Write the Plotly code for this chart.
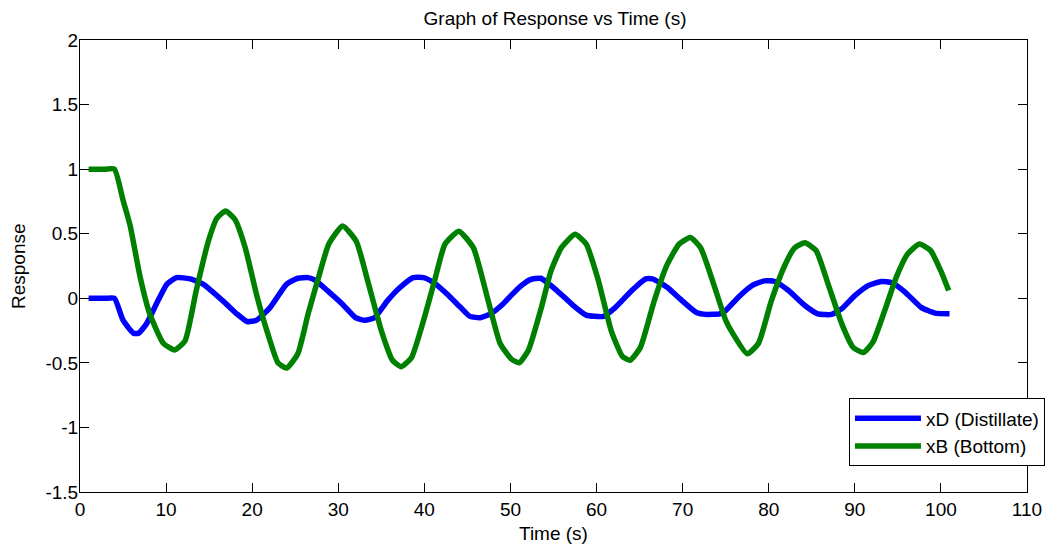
import plotly.graph_objects as go

# ---- data ----
t_distillate = [1, 2, 3, 4, 5.0, 6.2, 6.8, 7.7, 8.9, 10.1, 11.2, 12.8, 14.3, 16.6, 18.2,
                19.4, 20.5, 22.1, 24.0, 25.3, 26.5, 27.3, 28.9, 30.4, 32.0, 33.1, 34.2,
                35.7, 37.2, 38.7, 39.9, 41.1, 42.6, 44.2, 45.3, 46.5, 47.7, 49.2, 50.2,
                51.3, 52.3, 53.5, 55.4, 57.3, 58.8, 60.8, 62.2, 64.1, 65.7, 66.5, 68.2,
                69.7, 71.6, 72.8, 74.3, 75.0, 76.5, 78.1, 79.5, 80.7, 82.3, 84.2, 85.7,
                87.3, 88.5, 90.0, 91.6, 93.1, 94.3, 95.8, 97.7, 99.3, 101.0]
xD = [0, 0, 0, 0, -0.17, -0.27, -0.27, -0.20, -0.04, 0.11, 0.16, 0.15, 0.11, -0.02, -0.12,
      -0.18, -0.17, -0.07, 0.11, 0.155, 0.16, 0.14, 0.05, -0.04, -0.15, -0.17, -0.15,
      -0.02, 0.085, 0.16, 0.16, 0.12, 0.035, -0.07, -0.14, -0.15, -0.12, -0.04, 0.03,
      0.10, 0.145, 0.155, 0.06, -0.056, -0.13, -0.14, -0.07, 0.06, 0.15, 0.15, 0.085,
      -0.005, -0.11, -0.125, -0.12, -0.095, 0.01, 0.10, 0.135, 0.13, 0.06, -0.056, -0.12,
      -0.125, -0.08, 0.02, 0.10, 0.13, 0.12, 0.05, -0.07, -0.115, -0.12]

t_bottom = [1, 2, 3, 4, 5.0, 5.8, 7.0, 8.1, 9.7, 11.0, 12.2, 13.5, 14.9, 15.9, 16.9, 18.0,
            19.2, 20.5, 21.7, 23.0, 24.0, 25.3, 26.5, 27.7, 28.9, 30.5, 32.1, 33.4, 35.0,
            36.3, 37.3, 38.5, 40.0, 41.2, 42.4, 44.0, 45.7, 47.3, 48.8, 50.1, 51.0, 52.1,
            53.6, 54.7, 55.9, 57.5, 58.8, 60.2, 61.7, 63.0, 63.9, 65.1, 66.7, 68.2, 69.6,
            70.9, 72.1, 73.6, 75.0, 75.8, 77.5, 78.8, 80.3, 81.9, 83.0, 84.2, 85.5, 86.9,
            88.5, 89.8, 91.0, 92.1, 93.5, 94.8, 96.1, 97.5, 98.8, 100.0, 100.9]
xB = [1.0, 1.0, 1.0, 1.0, 0.76, 0.57, 0.16, -0.12, -0.35, -0.40, -0.33, 0.06, 0.44, 0.62,
      0.675, 0.61, 0.39, 0.03, -0.25, -0.50, -0.54, -0.43, -0.12, 0.16, 0.42, 0.56, 0.44,
      0.14, -0.25, -0.48, -0.53, -0.46, -0.15, 0.14, 0.42, 0.52, 0.39, 0.01, -0.35, -0.47,
      -0.50, -0.40, -0.07, 0.21, 0.39, 0.495, 0.42, 0.14, -0.25, -0.45, -0.48, -0.38,
      -0.02, 0.26, 0.42, 0.47, 0.39, 0.11, -0.17, -0.27, -0.43, -0.35, -0.02, 0.26, 0.39,
      0.43, 0.37, 0.11, -0.20, -0.38, -0.42, -0.34, -0.09, 0.16, 0.34, 0.42, 0.37, 0.21,
      0.06]

x_ticks = [0, 10, 20, 30, 40, 50, 60, 70, 80, 90, 100, 110]
x_ticktext = ["0", "10", "20", "30", "40", "50", "60", "70", "80", "90", "100", "110"]
y_ticks = [-1.5, -1, -0.5, 0, 0.5, 1, 1.5, 2]
y_ticktext = ["-1.5", "-1", "-0.5", "0", "0.5", "1", "1.5", "2"]

FONT = "Arial, Liberation Sans, sans-serif"
FS = 19

fig = go.Figure()
fig.add_trace(go.Scatter(x=t_distillate, y=xD, mode="lines", name="xD (Distillate)",
                         line=dict(color="#0000FF", width=5.5, shape="spline", smoothing=0.5)))
fig.add_trace(go.Scatter(x=t_bottom, y=xB, mode="lines", name="xB (Bottom)",
                         line=dict(color="#008000", width=5.5, shape="spline", smoothing=0.5)))

axis_common = dict(showgrid=False, zeroline=False, showline=True, linecolor="#000000",
                   linewidth=1, mirror="ticks", ticks="inside", ticklen=9, tickwidth=1,
                   tickcolor="#000000", tickfont=dict(family=FONT, size=FS, color="#000000"))

# the page body adds an 8px offset, so the figure is 8px smaller and shifted
fig.update_layout(
    width=1049, height=540,
    margin=dict(l=72, r=22, t=32, b=56),
    paper_bgcolor="#FFFFFF", plot_bgcolor="#FFFFFF",
    font=dict(family=FONT, size=FS, color="#000000"),
    title=dict(text="Graph of Response vs Time (s)", x=547 / 1049, xanchor="center",
               y=1 - 10 / 540, yanchor="middle", yref="container",
               font=dict(family=FONT, size=FS, color="#000000")),
    xaxis=dict(range=[0, 110], tickvals=x_ticks, ticktext=x_ticktext, **axis_common),
    yaxis=dict(range=[-1.5, 2], tickvals=y_ticks, ticktext=y_ticktext,
               ticklabelstandoff=-3, **axis_common),
    showlegend=True,
    legend=dict(x=0.812, y=0.207, xanchor="left", yanchor="top",
                bgcolor="#FFFFFF", bordercolor="#000000", borderwidth=1,
                font=dict(family=FONT, size=FS, color="#000000"),
                itemwidth=66, tracegroupgap=0, entrywidth=195),
    annotations=[
        dict(text="Time (s)", xref="paper", yref="paper", x=0.5, y=0, xanchor="center",
             yanchor="middle", yshift=-41, showarrow=False,
             font=dict(family=FONT, size=FS, color="#000000")),
        dict(text="Response", xref="paper", yref="paper", x=0, y=0.5, xanchor="center",
             yanchor="middle", xshift=-62, textangle=-90, showarrow=False,
             font=dict(family=FONT, size=FS, color="#000000")),
    ],
)

fig.write_html("out.html")
